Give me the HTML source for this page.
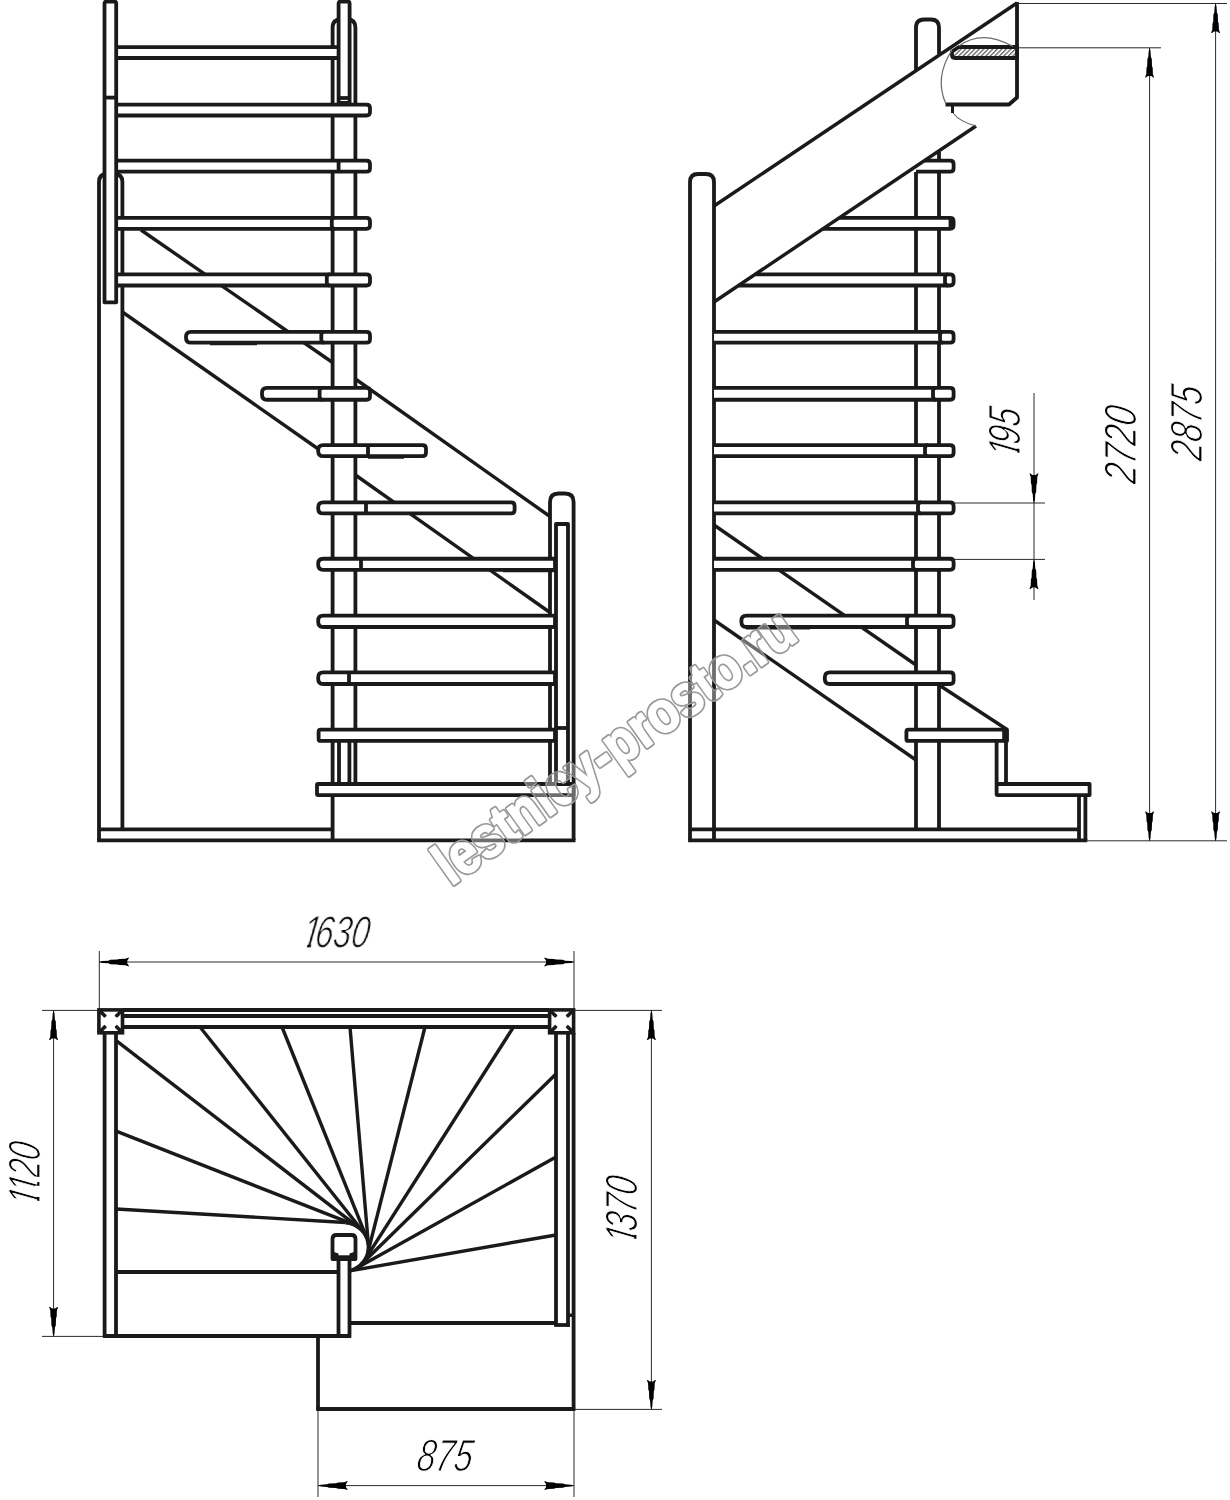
<!DOCTYPE html>
<html lang="ru">
<head>
<meta charset="utf-8">
<title>lestnicy-prosto.ru</title>
<style>
html,body{margin:0;padding:0;background:#fff;}
body{width:1230px;height:1500px;overflow:hidden;font-family:"Liberation Sans",sans-serif;}
svg{display:block;}
</style>
</head>
<body>
<svg width="1230" height="1500" viewBox="0 0 1230 1500">
<rect width="1230" height="1500" fill="#fff"/>
<g id="front">
<path d="M99,840 V182 C99,176 102,174 107,174 H114.4 C119.4,174 122.4,176 122.4,182 V829.4" stroke="#1a1a1a" stroke-width="3.8" fill="none" stroke-linejoin="round" />
<path d="M332.6,840 V27.5 C332.6,21.5 335.6,19.5 340.6,19.5 H347.4 C352.4,19.5 355.4,21.5 355.4,27.5 V785" stroke="#1a1a1a" stroke-width="3.8" fill="none" stroke-linejoin="round" />
<path d="M550,785 V502 C550,496 553,493.5 558.5,493.5 H565.1 C570.6,493.5 573.6,496 573.6,502 V840" stroke="#1a1a1a" stroke-width="3.8" fill="none" stroke-linejoin="round" />
<line x1="97.1" y1="840.3" x2="575.5" y2="840.3" stroke="#1a1a1a" stroke-width="3.8" stroke-linecap="butt" />
<line x1="99" y1="829.3" x2="332.6" y2="829.3" stroke="#1a1a1a" stroke-width="3.8" stroke-linecap="butt" />
<line x1="141" y1="230" x2="332.6" y2="362.5" stroke="#1a1a1a" stroke-width="3.4" stroke-linecap="butt" />
<line x1="122.4" y1="312" x2="319" y2="449.5" stroke="#1a1a1a" stroke-width="3.4" stroke-linecap="butt" />
<line x1="355.4" y1="379" x2="550" y2="516.5" stroke="#1a1a1a" stroke-width="3.4" stroke-linecap="butt" />
<line x1="355.4" y1="475" x2="550" y2="612.5" stroke="#1a1a1a" stroke-width="3.4" stroke-linecap="butt" />
<line x1="339" y1="740.9" x2="339" y2="784.0" stroke="#1a1a1a" stroke-width="3.8" stroke-linecap="butt" />
<line x1="349.4" y1="740.9" x2="349.4" y2="784.0" stroke="#1a1a1a" stroke-width="3.8" stroke-linecap="butt" />
<rect x="116.2" y="47.2" width="222.40000000000003" height="10.799999999999997" fill="#fff"/>
<path d="M116.2,47.2 H338.6 M116.2,58.0 H338.6" stroke="#1a1a1a" stroke-width="3.8" fill="none" stroke-linejoin="round" />
<rect x="116.2" y="104.6" width="253.8" height="10.900000000000006" fill="#fff"/>
<path d="M116.2,104.6 H366.5 Q370,104.6 370,108.1 V112.0 Q370,115.5 366.5,115.5 H116.2" stroke="#1a1a1a" stroke-width="3.8" fill="none" stroke-linejoin="round" />
<rect x="116.2" y="160.7" width="253.8" height="10.950000000000017" fill="#fff"/>
<path d="M116.2,160.7 H366.5 Q370,160.7 370,164.2 V168.15 Q370,171.65 366.5,171.65 H116.2" stroke="#1a1a1a" stroke-width="3.8" fill="none" stroke-linejoin="round" />
<line x1="338.6" y1="160.7" x2="338.6" y2="171.65" stroke="#1a1a1a" stroke-width="3.8" stroke-linecap="butt" />
<rect x="116.2" y="217.85" width="253.8" height="11.02000000000001" fill="#fff"/>
<path d="M116.2,217.85 H366.5 Q370,217.85 370,221.35 V225.37 Q370,228.87 366.5,228.87 H116.2" stroke="#1a1a1a" stroke-width="3.8" fill="none" stroke-linejoin="round" />
<path d="M334.8,217.85 Q331.8,217.85 331.8,220.85 V225.87 Q331.8,228.87 334.8,228.87" stroke="#1a1a1a" stroke-width="3.8" fill="none" stroke-linejoin="round" />
<rect x="116.2" y="274.3" width="253.8" height="11.199999999999989" fill="#fff"/>
<path d="M116.2,274.3 H366.5 Q370,274.3 370,277.8 V282.0 Q370,285.5 366.5,285.5 H116.2" stroke="#1a1a1a" stroke-width="3.8" fill="none" stroke-linejoin="round" />
<path d="M329.8,274.3 Q326.8,274.3 326.8,277.3 V282.5 Q326.8,285.5 329.8,285.5" stroke="#1a1a1a" stroke-width="3.8" fill="none" stroke-linejoin="round" />
<path d="M191,331.87 H366.5 Q370,331.87 370,335.37 V339.14 Q370,342.64 366.5,342.64 H191 Q186,342.64 186,337.64 V336.87 Q186,331.87 191,331.87 Z" stroke="#1a1a1a" stroke-width="3.8" fill="#fff" stroke-linejoin="round" />
<path d="M324.3,331.87 Q321.3,331.87 321.3,334.87 V339.64 Q321.3,342.64 324.3,342.64" stroke="#1a1a1a" stroke-width="3.8" fill="none" stroke-linejoin="round" />
<line x1="210" y1="343.84" x2="257" y2="343.84" stroke="#1a1a1a" stroke-width="2.6" stroke-linecap="butt" />
<path d="M267,387.97 H366.5 Q370,387.97 370,391.47 V396.26 Q370,399.76 366.5,399.76 H267 Q262,399.76 262,394.76 V392.97 Q262,387.97 267,387.97 Z" stroke="#1a1a1a" stroke-width="3.8" fill="#fff" stroke-linejoin="round" />
<path d="M322.6,387.97 Q319.6,387.97 319.6,390.97 V396.76 Q319.6,399.76 322.6,399.76" stroke="#1a1a1a" stroke-width="3.8" fill="none" stroke-linejoin="round" />
<path d="M323.2,445.1 H422.5 Q426,445.1 426,448.6 V452.7 Q426,456.2 422.5,456.2 H323.2 Q318.2,456.2 318.2,451.2 V450.1 Q318.2,445.1 323.2,445.1 Z" stroke="#1a1a1a" stroke-width="3.8" fill="#fff" stroke-linejoin="round" />
<line x1="368" y1="445.1" x2="368" y2="456.2" stroke="#1a1a1a" stroke-width="3.8" stroke-linecap="butt" />
<line x1="368" y1="457.4" x2="404" y2="457.4" stroke="#1a1a1a" stroke-width="2.6" stroke-linecap="butt" />
<path d="M323.2,502.44 H511.1 Q514.6,502.44 514.6,505.94 V509.92999999999995 Q514.6,513.43 511.1,513.43 H323.2 Q318.2,513.43 318.2,508.42999999999995 V507.44 Q318.2,502.44 323.2,502.44 Z" stroke="#1a1a1a" stroke-width="3.8" fill="#fff" stroke-linejoin="round" />
<line x1="366" y1="502.44" x2="366" y2="513.43" stroke="#1a1a1a" stroke-width="3.8" stroke-linecap="butt" />
<path d="M323.2,558.76 H555 V569.87 H323.2 Q318.2,569.87 318.2,564.87 V563.76 Q318.2,558.76 323.2,558.76 Z" stroke="#1a1a1a" stroke-width="3.8" fill="#fff" stroke-linejoin="round" />
<line x1="361" y1="558.76" x2="361" y2="569.87" stroke="#1a1a1a" stroke-width="3.8" stroke-linecap="butt" />
<line x1="503" y1="571.07" x2="555" y2="571.07" stroke="#1a1a1a" stroke-width="2.6" stroke-linecap="butt" />
<path d="M323.2,615.65 H555 V626.98 H323.2 Q318.2,626.98 318.2,621.98 V620.65 Q318.2,615.65 323.2,615.65 Z" stroke="#1a1a1a" stroke-width="3.8" fill="#fff" stroke-linejoin="round" />
<path d="M323.2,672.3 H555 V684.0 H323.2 Q318.2,684.0 318.2,679.0 V677.3 Q318.2,672.3 323.2,672.3 Z" stroke="#1a1a1a" stroke-width="3.8" fill="#fff" stroke-linejoin="round" />
<line x1="349" y1="672.3" x2="349" y2="684.0" stroke="#1a1a1a" stroke-width="3.8" stroke-linecap="butt" />
<path d="M320.6,729.7 H555 V740.9 H320.6 Q318.6,740.9 318.6,738.9 V731.7 Q318.6,729.7 320.6,729.7 Z" stroke="#1a1a1a" stroke-width="3.8" fill="#fff" stroke-linejoin="round" />
<path d="M318,784.0 H573.6 V795.1 H318 Q317,795.1 317,794.1 V785.0 Q317,784.0 318,784.0 Z" stroke="#1a1a1a" stroke-width="3.8" fill="#fff" stroke-linejoin="round" />
<path d="M104.5,302.3 V3.5 Q104.5,1.5 106.5,1.5 H114.2 Q116.2,1.5 116.2,3.5 V302.3 Z" stroke="#1a1a1a" stroke-width="3.8" fill="#fff" stroke-linejoin="round" />
<line x1="104.5" y1="97.6" x2="116.2" y2="97.6" stroke="#1a1a1a" stroke-width="3.8" stroke-linecap="butt" />
<path d="M338.6,103 V3.5 Q338.6,1.5 340.6,1.5 H347.6 Q349.6,1.5 349.6,3.5 V103 Z" stroke="#1a1a1a" stroke-width="3.8" fill="#fff" stroke-linejoin="round" />
<line x1="338.6" y1="98" x2="349.6" y2="98" stroke="#1a1a1a" stroke-width="3.8" stroke-linecap="butt" />
<path d="M556,783 V524 H568 V783" stroke="#1a1a1a" stroke-width="3.8" fill="#fff" stroke-linejoin="round" />
<line x1="556" y1="728" x2="568" y2="728" stroke="#1a1a1a" stroke-width="3.8" stroke-linecap="butt" />
</g>
<g id="side">
<path d="M690,840 V182 C690,176 693,174 698,174 H706 C711,174 714,176 714,182 V840" stroke="#1a1a1a" stroke-width="3.8" fill="none" stroke-linejoin="round" />
<line x1="688.1" y1="840.3" x2="1087.3" y2="840.3" stroke="#1a1a1a" stroke-width="3.8" stroke-linecap="butt" />
<line x1="690" y1="829.3" x2="1079" y2="829.3" stroke="#1a1a1a" stroke-width="3.8" stroke-linecap="butt" />
<path d="M916,71 V27.5 C916,21.5 919,19.5 924,19.5 H931 C936,19.5 939,21.5 939,27.5 V54" stroke="#1a1a1a" stroke-width="3.8" fill="none" stroke-linejoin="round" />
<line x1="916" y1="172" x2="916" y2="829.4" stroke="#1a1a1a" stroke-width="3.8" stroke-linecap="butt" />
<line x1="939" y1="152" x2="939" y2="829.4" stroke="#1a1a1a" stroke-width="3.8" stroke-linecap="butt" />
<line x1="714" y1="206" x2="1017" y2="3" stroke="#1a1a1a" stroke-width="3.4" stroke-linecap="butt" />
<path d="M1017,2 V97.5 L1009,104.5 H945.5" stroke="#1a1a1a" stroke-width="3.8" fill="none" stroke-linejoin="round" />
<line x1="714" y1="525" x2="916" y2="665" stroke="#1a1a1a" stroke-width="3.4" stroke-linecap="butt" />
<line x1="714" y1="620" x2="916" y2="760" stroke="#1a1a1a" stroke-width="3.4" stroke-linecap="butt" />
<line x1="939" y1="685" x2="1007" y2="729.5" stroke="#1a1a1a" stroke-width="3.4" stroke-linecap="butt" />
<path d="M924.3,160.7 H953.6 V171.65 H908.0 Z" fill="#fff"/>
<path d="M924.3,160.7 H950.1 Q953.6,160.7 953.6,164.2 V168.15 Q953.6,171.65 950.1,171.65 H916.0" stroke="#1a1a1a" stroke-width="3.8" fill="none" stroke-linejoin="round" />
<path d="M839.3,217.85 H953.6 V228.87 H822.9 Z" fill="#fff"/>
<path d="M839.3,217.85 H950.1 Q953.6,217.85 953.6,221.35 V225.37 Q953.6,228.87 950.1,228.87 H822.9" stroke="#1a1a1a" stroke-width="3.8" fill="none" stroke-linejoin="round" />
<path d="M755.2,274.3 H953.6 V285.5 H738.6 Z" fill="#fff"/>
<path d="M755.2,274.3 H950.1 Q953.6,274.3 953.6,277.8 V282.0 Q953.6,285.5 950.1,285.5 H738.6" stroke="#1a1a1a" stroke-width="3.8" fill="none" stroke-linejoin="round" />
<path d="M948.0,274.3 Q945,274.3 945,277.3 V282.5 Q945,285.5 948.0,285.5" stroke="#1a1a1a" stroke-width="3.8" fill="none" stroke-linejoin="round" />
<line x1="976" y1="126" x2="714" y2="302" stroke="#1a1a1a" stroke-width="3.4" stroke-linecap="butt" />
<rect x="948.6" y="217.85" width="5.2" height="11.02000000000001" rx="2" fill="#1a1a1a"/>
<rect x="714" y="331.87" width="239.60000000000002" height="10.769999999999982" fill="#fff"/>
<path d="M714,331.87 H950.1 Q953.6,331.87 953.6,335.37 V339.14 Q953.6,342.64 950.1,342.64 H714" stroke="#1a1a1a" stroke-width="3.8" fill="none" stroke-linejoin="round" />
<path d="M943.0,331.87 Q940,331.87 940,334.87 V339.64 Q940,342.64 943.0,342.64" stroke="#1a1a1a" stroke-width="3.8" fill="none" stroke-linejoin="round" />
<rect x="714" y="387.97" width="239.60000000000002" height="11.789999999999964" fill="#fff"/>
<path d="M714,387.97 H950.1 Q953.6,387.97 953.6,391.47 V396.26 Q953.6,399.76 950.1,399.76 H714" stroke="#1a1a1a" stroke-width="3.8" fill="none" stroke-linejoin="round" />
<path d="M936.0,387.97 Q933,387.97 933,390.97 V396.76 Q933,399.76 936.0,399.76" stroke="#1a1a1a" stroke-width="3.8" fill="none" stroke-linejoin="round" />
<rect x="714" y="445.1" width="239.60000000000002" height="11.099999999999966" fill="#fff"/>
<path d="M714,445.1 H950.1 Q953.6,445.1 953.6,448.6 V452.7 Q953.6,456.2 950.1,456.2 H714" stroke="#1a1a1a" stroke-width="3.8" fill="none" stroke-linejoin="round" />
<path d="M928.0,445.1 Q925,445.1 925,448.1 V453.2 Q925,456.2 928.0,456.2" stroke="#1a1a1a" stroke-width="3.8" fill="none" stroke-linejoin="round" />
<rect x="714" y="502.44" width="239.60000000000002" height="10.989999999999952" fill="#fff"/>
<path d="M714,502.44 H950.1 Q953.6,502.44 953.6,505.94 V509.92999999999995 Q953.6,513.43 950.1,513.43 H714" stroke="#1a1a1a" stroke-width="3.8" fill="none" stroke-linejoin="round" />
<path d="M921.0,502.44 Q918,502.44 918,505.44 V510.42999999999995 Q918,513.43 921.0,513.43" stroke="#1a1a1a" stroke-width="3.8" fill="none" stroke-linejoin="round" />
<rect x="714" y="558.76" width="239.60000000000002" height="11.110000000000014" fill="#fff"/>
<path d="M714,558.76 H950.1 Q953.6,558.76 953.6,562.26 V566.37 Q953.6,569.87 950.1,569.87 H714" stroke="#1a1a1a" stroke-width="3.8" fill="none" stroke-linejoin="round" />
<path d="M916.0,558.76 Q913,558.76 913,561.76 V566.87 Q913,569.87 916.0,569.87" stroke="#1a1a1a" stroke-width="3.8" fill="none" stroke-linejoin="round" />
<path d="M746.4,615.65 H950.1 Q953.6,615.65 953.6,619.15 V623.48 Q953.6,626.98 950.1,626.98 H746.4 Q741.4,626.98 741.4,621.98 V620.65 Q741.4,615.65 746.4,615.65 Z" stroke="#1a1a1a" stroke-width="3.8" fill="#fff" stroke-linejoin="round" />
<path d="M910.0,615.65 Q907,615.65 907,618.65 V623.98 Q907,626.98 910.0,626.98" stroke="#1a1a1a" stroke-width="3.8" fill="none" stroke-linejoin="round" />
<line x1="746" y1="628.1800000000001" x2="810" y2="628.1800000000001" stroke="#1a1a1a" stroke-width="2.6" stroke-linecap="butt" />
<path d="M829.8,672.3 H950.1 Q953.6,672.3 953.6,675.8 V680.5 Q953.6,684.0 950.1,684.0 H829.8 Q824.8,684.0 824.8,679.0 V677.3 Q824.8,672.3 829.8,672.3 Z" stroke="#1a1a1a" stroke-width="3.8" fill="#fff" stroke-linejoin="round" />
<line x1="996.6" y1="740.9" x2="996.6" y2="784.0" stroke="#1a1a1a" stroke-width="3.8" stroke-linecap="butt" />
<line x1="1006" y1="729.7" x2="1006" y2="784.0" stroke="#1a1a1a" stroke-width="3.8" stroke-linecap="butt" />
<path d="M908.4,729.7 H1007 V740.9 H908.4 Q906.4,740.9 906.4,738.9 V731.7 Q906.4,729.7 908.4,729.7 Z" stroke="#1a1a1a" stroke-width="3.8" fill="#fff" stroke-linejoin="round" />
<line x1="1005.2" y1="729.7" x2="1005.2" y2="740.9" stroke="#1a1a1a" stroke-width="6" stroke-linecap="butt" />
<path d="M997.6,784.0 H1089.6 V795.1 H997.6 Q996.6,795.1 996.6,794.1 V785.0 Q996.6,784.0 997.6,784.0 Z" stroke="#1a1a1a" stroke-width="3.8" fill="#fff" stroke-linejoin="round" />
<line x1="1079" y1="795.1" x2="1079" y2="840" stroke="#1a1a1a" stroke-width="3.8" stroke-linecap="butt" />
<line x1="1085.4" y1="795.1" x2="1085.4" y2="840" stroke="#1a1a1a" stroke-width="3.8" stroke-linecap="butt" />
<defs><pattern id="h" width="3.2" height="3.2" patternUnits="userSpaceOnUse" patternTransform="rotate(-45)"><rect width="3.2" height="3.2" fill="#fff"/><rect width="3.2" height="1.3" fill="#666"/></pattern></defs>
<path d="M959,47 H1017 V58 H955 Q952,58 952,55 V51.5 Z" stroke="#1a1a1a" stroke-width="3.8" fill="url(#h)" stroke-linejoin="round" />
<line x1="952.5" y1="104.5" x2="952.5" y2="113" stroke="#1a1a1a" stroke-width="3" stroke-linecap="butt" />
<path d="M959,46 Q982,29 1013,46.5" stroke="#6a6a6a" stroke-width="1.2" fill="none"/>
<path d="M952,50 Q934,78 946,104 " stroke="#6a6a6a" stroke-width="1.2" fill="none"/>
<path d="M953,113 Q960,122 976,126" stroke="#6a6a6a" stroke-width="1.2" fill="none"/>
</g>
<g id="dims" opacity="0.999">
<line x1="1017" y1="3.5" x2="1227" y2="3.5" stroke="#2a2a2a" stroke-width="1.0"/>
<line x1="1017" y1="47.8" x2="1161" y2="47.8" stroke="#2a2a2a" stroke-width="1.0"/>
<line x1="1086" y1="840.8" x2="1227" y2="840.8" stroke="#2a2a2a" stroke-width="1.0"/>
<line x1="1149.6" y1="48" x2="1149.6" y2="841" stroke="#2a2a2a" stroke-width="1.0"/>
<polygon points="0,0 0.9,3 1.3,9 2.2,11 2.4,18 3.1,20 3.3,26 4.5,29.5 3.6,29.5 1.6,28 0,28 -1.6,28 -3.6,29.5 -4.5,29.5 -3.3,26 -3.1,20 -2.4,18 -2.2,11 -1.3,9 -0.9,3" fill="#000" transform="translate(1149.6,48) rotate(0)"/>
<polygon points="0,0 0.9,3 1.3,9 2.2,11 2.4,18 3.1,20 3.3,26 4.5,29.5 3.6,29.5 1.6,28 0,28 -1.6,28 -3.6,29.5 -4.5,29.5 -3.3,26 -3.1,20 -2.4,18 -2.2,11 -1.3,9 -0.9,3" fill="#000" transform="translate(1149.6,841) rotate(180)"/>
<line x1="1215.6" y1="3.5" x2="1215.6" y2="841" stroke="#2a2a2a" stroke-width="1.0"/>
<polygon points="0,0 0.9,3 1.3,9 2.2,11 2.4,18 3.1,20 3.3,26 4.5,29.5 3.6,29.5 1.6,28 0,28 -1.6,28 -3.6,29.5 -4.5,29.5 -3.3,26 -3.1,20 -2.4,18 -2.2,11 -1.3,9 -0.9,3" fill="#000" transform="translate(1215.6,3.5) rotate(0)"/>
<polygon points="0,0 0.9,3 1.3,9 2.2,11 2.4,18 3.1,20 3.3,26 4.5,29.5 3.6,29.5 1.6,28 0,28 -1.6,28 -3.6,29.5 -4.5,29.5 -3.3,26 -3.1,20 -2.4,18 -2.2,11 -1.3,9 -0.9,3" fill="#000" transform="translate(1215.6,841) rotate(180)"/>
<line x1="954" y1="503" x2="1045" y2="503" stroke="#2a2a2a" stroke-width="1.0"/>
<line x1="954" y1="559.4" x2="1045" y2="559.4" stroke="#2a2a2a" stroke-width="1.0"/>
<line x1="1034" y1="393" x2="1034" y2="600" stroke="#2a2a2a" stroke-width="1.0"/>
<polygon points="0,0 0.9,3 1.3,9 2.2,11 2.4,18 3.1,20 3.3,26 4.5,29.5 3.6,29.5 1.6,28 0,28 -1.6,28 -3.6,29.5 -4.5,29.5 -3.3,26 -3.1,20 -2.4,18 -2.2,11 -1.3,9 -0.9,3" fill="#000" transform="translate(1034,503) rotate(180)"/>
<polygon points="0,0 0.9,3 1.3,9 2.2,11 2.4,18 3.1,20 3.3,26 4.5,29.5 3.6,29.5 1.6,28 0,28 -1.6,28 -3.6,29.5 -4.5,29.5 -3.3,26 -3.1,20 -2.4,18 -2.2,11 -1.3,9 -0.9,3" fill="#000" transform="translate(1034,559.4) rotate(0)"/>
<clipPath id="tc195" clipPathUnits="userSpaceOnUse"><path d="M-10,-60 H87.75 V-4.7 H-10 Z M8.60,-5.2 H13.80 V8 H8.60 Z M21.38,-5.2 H43.03 V8 H21.38 Z M41.83,-5.2 H67.95 V8 H41.83 Z"/></clipPath><text clip-path="url(#tc195)" transform="translate(1019.70,459.00) rotate(-90) scale(0.7304,1.0100) skewX(-11.6)" dx="0.00 -7.00 0.00" font-family="'Liberation Sans', sans-serif" font-style="italic" font-size="44.8" fill="#000" stroke="#fff" stroke-width="1.0" vector-effect="non-scaling-stroke" paint-order="fill stroke" stroke-linejoin="round">195</text>
<clipPath id="tc2720" clipPathUnits="userSpaceOnUse"><path d="M-10,-60 H119.66 V-4.7 H-10 Z M-1.00,-5.2 H25.12 V8 H-1.00 Z M23.92,-5.2 H50.03 V8 H23.92 Z M48.83,-5.2 H74.95 V8 H48.83 Z M73.75,-5.2 H99.86 V8 H73.75 Z"/></clipPath><text clip-path="url(#tc2720)" transform="translate(1135.70,484.70) rotate(-90) scale(0.7672,1.0100) skewX(-11.6)" dx="0.00 0.00 0.00 0.00" font-family="'Liberation Sans', sans-serif" font-style="italic" font-size="44.8" fill="#000" stroke="#fff" stroke-width="1.0" vector-effect="non-scaling-stroke" paint-order="fill stroke" stroke-linejoin="round">2720</text>
<clipPath id="tc2875" clipPathUnits="userSpaceOnUse"><path d="M-10,-60 H119.66 V-4.7 H-10 Z M-1.00,-5.2 H25.12 V8 H-1.00 Z M23.92,-5.2 H50.03 V8 H23.92 Z M48.83,-5.2 H74.95 V8 H48.83 Z M73.75,-5.2 H99.86 V8 H73.75 Z"/></clipPath><text clip-path="url(#tc2875)" transform="translate(1202.00,461.70) rotate(-90) scale(0.7441,1.0100) skewX(-11.6)" dx="0.00 0.00 0.00 0.00" font-family="'Liberation Sans', sans-serif" font-style="italic" font-size="44.8" fill="#000" stroke="#fff" stroke-width="1.0" vector-effect="non-scaling-stroke" paint-order="fill stroke" stroke-linejoin="round">2875</text>
<line x1="99.3" y1="951" x2="99.3" y2="1009" stroke="#2a2a2a" stroke-width="1.0"/>
<line x1="574" y1="951" x2="574" y2="1009" stroke="#2a2a2a" stroke-width="1.0"/>
<line x1="99" y1="962" x2="574" y2="962" stroke="#2a2a2a" stroke-width="1.0"/>
<polygon points="0,0 0.9,3 1.3,9 2.2,11 2.4,18 3.1,20 3.3,26 4.5,29.5 3.6,29.5 1.6,28 0,28 -1.6,28 -3.6,29.5 -4.5,29.5 -3.3,26 -3.1,20 -2.4,18 -2.2,11 -1.3,9 -0.9,3" fill="#000" transform="translate(99.3,962) rotate(-90)"/>
<polygon points="0,0 0.9,3 1.3,9 2.2,11 2.4,18 3.1,20 3.3,26 4.5,29.5 3.6,29.5 1.6,28 0,28 -1.6,28 -3.6,29.5 -4.5,29.5 -3.3,26 -3.1,20 -2.4,18 -2.2,11 -1.3,9 -0.9,3" fill="#000" transform="translate(574,962) rotate(90)"/>
<clipPath id="tc1630" clipPathUnits="userSpaceOnUse"><path d="M-10,-60 H112.66 V-4.7 H-10 Z M8.60,-5.2 H13.80 V8 H8.60 Z M21.38,-5.2 H43.03 V8 H21.38 Z M41.83,-5.2 H67.95 V8 H41.83 Z M66.75,-5.2 H92.86 V8 H66.75 Z"/></clipPath><text clip-path="url(#tc1630)" transform="translate(300.70,947.70) rotate(0) scale(0.7222,1.0100) skewX(-11.6)" dx="0.00 -7.00 0.00 0.00" font-family="'Liberation Sans', sans-serif" font-style="italic" font-size="44.8" fill="#000" stroke="#fff" stroke-width="1.0" vector-effect="non-scaling-stroke" paint-order="fill stroke" stroke-linejoin="round">1630</text>
<line x1="42" y1="1010.4" x2="98" y2="1010.4" stroke="#2a2a2a" stroke-width="1.0"/>
<line x1="42" y1="1336.4" x2="104" y2="1336.4" stroke="#2a2a2a" stroke-width="1.0"/>
<line x1="53.6" y1="1010" x2="53.6" y2="1336" stroke="#2a2a2a" stroke-width="1.0"/>
<polygon points="0,0 0.9,3 1.3,9 2.2,11 2.4,18 3.1,20 3.3,26 4.5,29.5 3.6,29.5 1.6,28 0,28 -1.6,28 -3.6,29.5 -4.5,29.5 -3.3,26 -3.1,20 -2.4,18 -2.2,11 -1.3,9 -0.9,3" fill="#000" transform="translate(53.6,1010.4) rotate(0)"/>
<polygon points="0,0 0.9,3 1.3,9 2.2,11 2.4,18 3.1,20 3.3,26 4.5,29.5 3.6,29.5 1.6,28 0,28 -1.6,28 -3.6,29.5 -4.5,29.5 -3.3,26 -3.1,20 -2.4,18 -2.2,11 -1.3,9 -0.9,3" fill="#000" transform="translate(53.6,1336.4) rotate(180)"/>
<clipPath id="tc1120" clipPathUnits="userSpaceOnUse"><path d="M-10,-60 H113.06 V-4.7 H-10 Z M8.60,-5.2 H13.80 V8 H8.60 Z M29.92,-5.2 H35.12 V8 H29.92 Z M42.70,-5.2 H68.35 V8 H42.70 Z M67.15,-5.2 H93.26 V8 H67.15 Z"/></clipPath><text clip-path="url(#tc1120)" transform="translate(39.70,1207.00) rotate(-90) scale(0.7032,1.0100) skewX(-11.6)" dx="0.00 -3.60 -3.00 0.00" font-family="'Liberation Sans', sans-serif" font-style="italic" font-size="44.8" fill="#000" stroke="#fff" stroke-width="1.0" vector-effect="non-scaling-stroke" paint-order="fill stroke" stroke-linejoin="round">1120</text>
<line x1="575" y1="1010.4" x2="662" y2="1010.4" stroke="#2a2a2a" stroke-width="1.0"/>
<line x1="575" y1="1409.4" x2="662" y2="1409.4" stroke="#2a2a2a" stroke-width="1.0"/>
<line x1="651.4" y1="1010" x2="651.4" y2="1409" stroke="#2a2a2a" stroke-width="1.0"/>
<polygon points="0,0 0.9,3 1.3,9 2.2,11 2.4,18 3.1,20 3.3,26 4.5,29.5 3.6,29.5 1.6,28 0,28 -1.6,28 -3.6,29.5 -4.5,29.5 -3.3,26 -3.1,20 -2.4,18 -2.2,11 -1.3,9 -0.9,3" fill="#000" transform="translate(651.4,1010.4) rotate(0)"/>
<polygon points="0,0 0.9,3 1.3,9 2.2,11 2.4,18 3.1,20 3.3,26 4.5,29.5 3.6,29.5 1.6,28 0,28 -1.6,28 -3.6,29.5 -4.5,29.5 -3.3,26 -3.1,20 -2.4,18 -2.2,11 -1.3,9 -0.9,3" fill="#000" transform="translate(651.4,1409.4) rotate(180)"/>
<clipPath id="tc1370" clipPathUnits="userSpaceOnUse"><path d="M-10,-60 H112.66 V-4.7 H-10 Z M8.60,-5.2 H13.80 V8 H8.60 Z M21.38,-5.2 H43.03 V8 H21.38 Z M41.83,-5.2 H67.95 V8 H41.83 Z M66.75,-5.2 H92.86 V8 H66.75 Z"/></clipPath><text clip-path="url(#tc1370)" transform="translate(637.00,1245.30) rotate(-90) scale(0.7245,1.0100) skewX(-11.6)" dx="0.00 -7.00 0.00 0.00" font-family="'Liberation Sans', sans-serif" font-style="italic" font-size="44.8" fill="#000" stroke="#fff" stroke-width="1.0" vector-effect="non-scaling-stroke" paint-order="fill stroke" stroke-linejoin="round">1370</text>
<line x1="318" y1="1409" x2="318" y2="1497" stroke="#2a2a2a" stroke-width="1.0"/>
<line x1="574" y1="1409" x2="574" y2="1497" stroke="#2a2a2a" stroke-width="1.0"/>
<line x1="318" y1="1485.6" x2="574" y2="1485.6" stroke="#2a2a2a" stroke-width="1.0"/>
<polygon points="0,0 0.9,3 1.3,9 2.2,11 2.4,18 3.1,20 3.3,26 4.5,29.5 3.6,29.5 1.6,28 0,28 -1.6,28 -3.6,29.5 -4.5,29.5 -3.3,26 -3.1,20 -2.4,18 -2.2,11 -1.3,9 -0.9,3" fill="#000" transform="translate(318,1485.6) rotate(-90)"/>
<polygon points="0,0 0.9,3 1.3,9 2.2,11 2.4,18 3.1,20 3.3,26 4.5,29.5 3.6,29.5 1.6,28 0,28 -1.6,28 -3.6,29.5 -4.5,29.5 -3.3,26 -3.1,20 -2.4,18 -2.2,11 -1.3,9 -0.9,3" fill="#000" transform="translate(574,1485.6) rotate(90)"/>
<clipPath id="tc875" clipPathUnits="userSpaceOnUse"><path d="M-10,-60 H94.75 V-4.7 H-10 Z M-1.00,-5.2 H25.12 V8 H-1.00 Z M23.92,-5.2 H50.03 V8 H23.92 Z M48.83,-5.2 H74.95 V8 H48.83 Z"/></clipPath><text clip-path="url(#tc875)" transform="translate(415.50,1471.40) rotate(0) scale(0.7404,1.0100) skewX(-11.6)" dx="0.00 0.00 0.00" font-family="'Liberation Sans', sans-serif" font-style="italic" font-size="44.8" fill="#000" stroke="#fff" stroke-width="1.0" vector-effect="non-scaling-stroke" paint-order="fill stroke" stroke-linejoin="round">875</text>
</g>
<g id="plan">
<line x1="116.2" y1="1209" x2="345.44" y2="1222.54" stroke="#1a1a1a" stroke-width="3.4" stroke-linecap="butt" />
<line x1="116.2" y1="1131.2" x2="352.96" y2="1224.2" stroke="#1a1a1a" stroke-width="3.4" stroke-linecap="butt" />
<line x1="116.2" y1="1040.6" x2="358.95" y2="1227.59" stroke="#1a1a1a" stroke-width="3.4" stroke-linecap="butt" />
<line x1="200" y1="1027" x2="363.16" y2="1231.73" stroke="#1a1a1a" stroke-width="3.4" stroke-linecap="butt" />
<line x1="282" y1="1027" x2="366.73" y2="1237.86" stroke="#1a1a1a" stroke-width="3.4" stroke-linecap="butt" />
<line x1="350" y1="1027" x2="368.41" y2="1244.94" stroke="#1a1a1a" stroke-width="3.4" stroke-linecap="butt" />
<line x1="425" y1="1027" x2="367.75" y2="1253.02" stroke="#1a1a1a" stroke-width="3.4" stroke-linecap="butt" />
<line x1="513.5" y1="1027" x2="364.65" y2="1260.18" stroke="#1a1a1a" stroke-width="3.4" stroke-linecap="butt" />
<line x1="556" y1="1074" x2="361.13" y2="1264.52" stroke="#1a1a1a" stroke-width="3.4" stroke-linecap="butt" />
<line x1="556" y1="1157" x2="355.92" y2="1268.41" stroke="#1a1a1a" stroke-width="3.4" stroke-linecap="butt" />
<line x1="556" y1="1235" x2="348.2" y2="1271.14" stroke="#1a1a1a" stroke-width="3.4" stroke-linecap="butt" />
<path d="M345.44,1222.54 A24.5,24.5 0 0 1 348.20,1271.14" stroke="#1a1a1a" stroke-width="3.8" fill="none" stroke-linejoin="round" />
<line x1="122.5" y1="1010" x2="549" y2="1010" stroke="#1a1a1a" stroke-width="3.8" stroke-linecap="butt" />
<line x1="122.5" y1="1016" x2="549" y2="1016" stroke="#1a1a1a" stroke-width="3.8" stroke-linecap="butt" />
<line x1="122.5" y1="1027" x2="549" y2="1027" stroke="#1a1a1a" stroke-width="3.8" stroke-linecap="butt" />
<line x1="104.6" y1="1033" x2="104.6" y2="1337.5" stroke="#1a1a1a" stroke-width="3.8" stroke-linecap="butt" />
<line x1="116" y1="1033" x2="116" y2="1336" stroke="#1a1a1a" stroke-width="3.8" stroke-linecap="butt" />
<line x1="556" y1="1033" x2="556" y2="1325" stroke="#1a1a1a" stroke-width="3.8" stroke-linecap="butt" />
<line x1="568" y1="1033" x2="568" y2="1326.5" stroke="#1a1a1a" stroke-width="3.8" stroke-linecap="butt" />
<line x1="573.6" y1="1033" x2="573.6" y2="1410.5" stroke="#1a1a1a" stroke-width="3.8" stroke-linecap="butt" />
<line x1="554.1" y1="1325" x2="569.9" y2="1325" stroke="#1a1a1a" stroke-width="3.8" stroke-linecap="butt" />
<line x1="568" y1="1315.2" x2="573.6" y2="1315.2" stroke="#1a1a1a" stroke-width="3.4" stroke-linecap="butt" />
<line x1="103.1" y1="1336" x2="351" y2="1336" stroke="#1a1a1a" stroke-width="3.8" stroke-linecap="butt" />
<line x1="116" y1="1272" x2="338.5" y2="1272" stroke="#1a1a1a" stroke-width="3.8" stroke-linecap="butt" />
<line x1="349.5" y1="1323" x2="556" y2="1323" stroke="#1a1a1a" stroke-width="3.8" stroke-linecap="butt" />
<line x1="338.5" y1="1259" x2="338.5" y2="1336" stroke="#1a1a1a" stroke-width="3.8" stroke-linecap="butt" />
<line x1="349.5" y1="1259" x2="349.5" y2="1337.5" stroke="#1a1a1a" stroke-width="3.8" stroke-linecap="butt" />
<line x1="318" y1="1336" x2="318" y2="1410.5" stroke="#1a1a1a" stroke-width="3.8" stroke-linecap="butt" />
<line x1="316.5" y1="1409" x2="575.1" y2="1409" stroke="#1a1a1a" stroke-width="3.8" stroke-linecap="butt" />
<rect x="98.9" y="1009.9" width="23.599999999999994" height="22.899999999999977" fill="#fff" stroke="#1a1a1a" stroke-width="3.6" stroke-linejoin="miter"/>
<line x1="99.90" y1="1010.90" x2="105.20" y2="1016.20" stroke="#1a1a1a" stroke-width="3.6"/>
<line x1="104.10" y1="1017.30" x2="106.30" y2="1015.10" stroke="#1a1a1a" stroke-width="1.6"/>
<line x1="121.50" y1="1010.90" x2="116.20" y2="1016.20" stroke="#1a1a1a" stroke-width="3.6"/>
<line x1="117.30" y1="1017.30" x2="115.10" y2="1015.10" stroke="#1a1a1a" stroke-width="1.6"/>
<line x1="99.90" y1="1031.80" x2="105.20" y2="1026.50" stroke="#1a1a1a" stroke-width="3.6"/>
<line x1="104.10" y1="1025.40" x2="106.30" y2="1027.60" stroke="#1a1a1a" stroke-width="1.6"/>
<line x1="121.50" y1="1031.80" x2="116.20" y2="1026.50" stroke="#1a1a1a" stroke-width="3.6"/>
<line x1="117.30" y1="1025.40" x2="115.10" y2="1027.60" stroke="#1a1a1a" stroke-width="1.6"/>
<rect x="549.6" y="1009.9" width="24.0" height="22.899999999999977" fill="#fff" stroke="#1a1a1a" stroke-width="3.6" stroke-linejoin="miter"/>
<line x1="550.60" y1="1010.90" x2="555.90" y2="1016.20" stroke="#1a1a1a" stroke-width="3.6"/>
<line x1="554.80" y1="1017.30" x2="557.00" y2="1015.10" stroke="#1a1a1a" stroke-width="1.6"/>
<line x1="572.60" y1="1010.90" x2="567.30" y2="1016.20" stroke="#1a1a1a" stroke-width="3.6"/>
<line x1="568.40" y1="1017.30" x2="566.20" y2="1015.10" stroke="#1a1a1a" stroke-width="1.6"/>
<line x1="550.60" y1="1031.80" x2="555.90" y2="1026.50" stroke="#1a1a1a" stroke-width="3.6"/>
<line x1="554.80" y1="1025.40" x2="557.00" y2="1027.60" stroke="#1a1a1a" stroke-width="1.6"/>
<line x1="572.60" y1="1031.80" x2="567.30" y2="1026.50" stroke="#1a1a1a" stroke-width="3.6"/>
<line x1="568.40" y1="1025.40" x2="566.20" y2="1027.60" stroke="#1a1a1a" stroke-width="1.6"/>
<path d="M332.5,1259 V1239 Q332.5,1235 336.5,1235 H351.5 Q355.5,1235 355.5,1239 V1259 Z" stroke="#1a1a1a" stroke-width="3.8" fill="#fff" stroke-linejoin="round" />
<line x1="332.5" y1="1257.3" x2="355.5" y2="1257.3" stroke="#1a1a1a" stroke-width="4" stroke-linecap="butt" />
<polygon points="334,1256 334,1252 338.5,1253.5 338.5,1256" fill="#1a1a1a"/><polygon points="354,1256 354,1252 349.5,1253.5 349.5,1256" fill="#1a1a1a"/>
</g>
<defs><mask id="wmr" maskUnits="userSpaceOnUse" x="0" y="0" width="1230" height="1500"><text x="0" y="0" transform="translate(451.1,886.5) rotate(-35.4) scale(0.865,1)" font-family="'Liberation Sans', sans-serif" font-weight="bold" font-size="58.6" stroke-linejoin="round" fill="#fff" stroke="#fff" stroke-width="5.0">lestnicy-prosto.ru</text><text x="0" y="0" transform="translate(451.1,886.5) rotate(-35.4) scale(0.865,1)" font-family="'Liberation Sans', sans-serif" font-weight="bold" font-size="58.6" stroke-linejoin="round" fill="#000" stroke="#000" stroke-width="1.6">lestnicy-prosto.ru</text></mask></defs>
<g id="wm"><g opacity="0.36"><text x="0" y="0" transform="translate(451.1,886.5) rotate(-35.4) scale(0.865,1)" font-family="'Liberation Sans', sans-serif" font-weight="bold" font-size="58.6" stroke-linejoin="round" fill="#fff" stroke="#fff" stroke-width="1.6">lestnicy-prosto.ru</text></g>
<rect x="0" y="0" width="1230" height="1500" fill="#999" mask="url(#wmr)"/></g>
</svg>
</body>
</html>
